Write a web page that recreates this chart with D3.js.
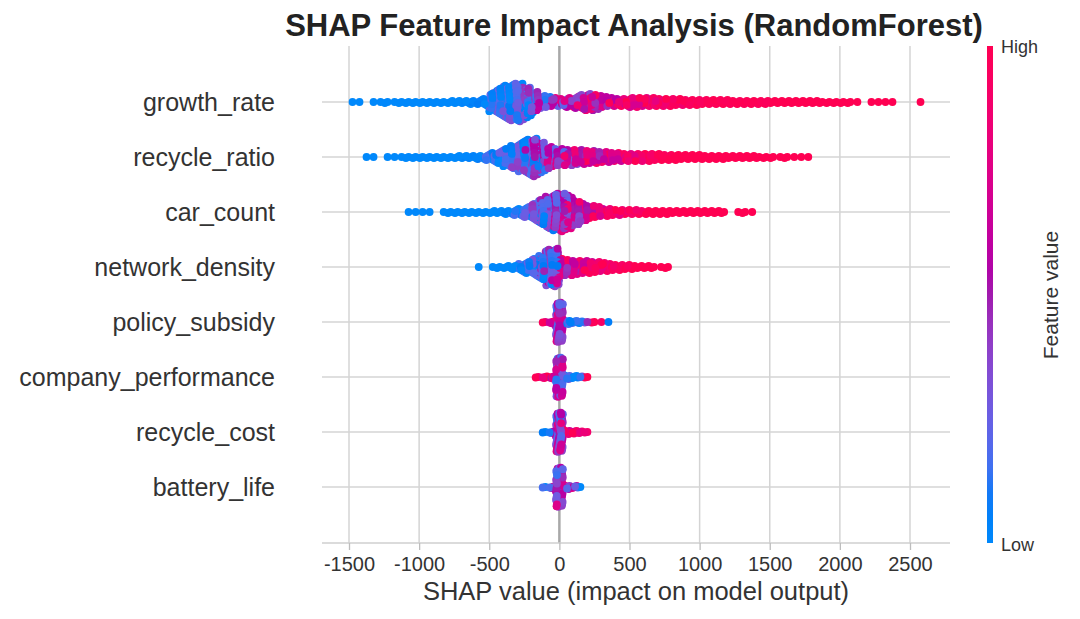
<!DOCTYPE html>
<html lang="en">

<head>
    <meta charset="utf-8">
    <title>SHAP Feature Impact Analysis</title>
    <script src="https://cdn.jsdelivr.net/npm/d3@7/dist/d3.min.js"></script>
</head>
<style>
    body { margin: 0; background: #fff; }
    text { font-family: "Liberation Sans", Arial, sans-serif; }
</style>

<body>
    <script>

     // feature names, top to bottom
     var features = ["growth_rate", "recycle_ratio", "car_count", "network_density",
                     "policy_subsidy", "company_performance", "recycle_cost", "battery_life"];

     var xTicks = [-1500, -1000, -500, 0, 500, 1000, 1500, 2000, 2500];

     // histogram of SHAP values: first bin edge and bin width per feature
     var binStart = [-1500, -1400, -1100, -600, -125, -175, -125, -125];
     var binWidth = [50, 50, 50, 50, 50, 50, 50, 50];

     // dot counts per bin, and mean feature value (0 = low, 1 = high) per bin
     var growthRateCounts = [1,1,0,1,1,2,1,2,2,2, 2,2,2,2,3,3,3,4,5,8,
                             19,27,34,37,38,30,21,13,11,9, 8,10,13,16,17,15,11,9,8,8,
                             10,10,9,9,8,8,7,7,6,6, 5,5,5,5,4,4,4,4,4,4,
                             3,3,3,3,3,3,3,2,2,2, 2,2,1,0,1,1,1,1,0,0, 0,1];
     var growthRateColors = [0,0,0,0,0,0,0,0,0,0, 0,0,0,0,0,0,0.02,0.04,0.06,0.1,
                             0.13,0.15,0.17,0.19,0.22,0.27,0.32,0.38,0.43,0.48,
                             0.53,0.57,0.6,0.63,0.66,0.68,0.71,0.74,0.78,0.8,
                             0.83,0.85,0.87,0.89,0.91,0.92,0.93,0.94,0.95,0.96,
                             0.97,0.97,0.98,0.98,0.98,0.98,0.98,0.98,0.98,0.98,
                             1,1,1,1,1,1,1,1,1,1, 1,1,1,1,1,1,1,1,1,1, 1,1];

     var recycleRatioCounts = [1,1,0,1,1,1,2,2,2,2, 2,2,2,3,3,3,4,6,9,13,
                               18,23,29,35,38,30,22,18,17,16, 15,15,13,12,11,10,9,8,8,8,
                               8,7,7,6,6,5,5,5,4,4, 4,4,3,3,3,3,2,2,2,1, 2,1,1,1];
     var recycleRatioColors = [0,0,0,0,0,0,0,0,0,0, 0,0,0,0,
                               0.02,0.03,0.05,0.08,0.11,0.14,0.17,0.2,0.23,0.27,
                               0.31,0.37,0.43,0.48,0.53,0.58,0.62,0.65,0.69,0.72,
                               0.76,0.8,0.83,0.86,0.88,0.9,0.92,0.94,0.95,0.96,
                               1,1,1,1,1,1,1,1,1,1, 1,1,1,1,1,1,1,1,1,1];

     var carCountCounts = [1,1,1,1,0,1,2,2,2,2,2,2,3,3,4,
                           6,8,11,17,25,32,37,38,33,24, 18,13,11,8,7,6,5,5,4,4,
                           4,4,4,3,3,3,3,3,3,3, 2,0,1,2,1];
     var carCountColors = [0,0,0,0,0,0,0,0,0,0,0,0,0,0,
                           0.04,0.08,0.12,0.17,0.22,0.27,0.32,0.4,0.48,0.54,
                           0.6,0.66,0.72,0.78,0.84,0.88,0.9,0.92,0.94,0.96,
                           1,1,1,1,1,1,1,1,1,1,1,1,1,1,1,1];

     var networkDensityCounts = [1,0,1,2,3,4,8,12,17,24, 36,38,18,16,14,13,12,11,9,7, 6,5,4,3,3,2,1,2];
     var networkDensityColors = [0,0,0,0,0,0,0.08,0.12,0.17,0.24, 0.32,0.42,0.63,0.68,0.74,0.79,0.84,0.88,0.9,0.93,
                                 0.95,0.97,1,1,1,1,1,1];

     var policySubsidyCounts = [2,6,80,8,5,4,2,2,1,1];
     var policySubsidyColors = [0.9,0.8,0.45,0.15,0.1,0.1,0.5,0.95,0.95,0.05];

     var companyPerfCounts = [2,4,6,80,8,5,3,2];
     var companyPerfColors = [0.95,0.9,0.75,0.45,0.15,0.1,0.15,0.95];

     var recycleCostCounts = [2,4,80,8,6,4,2];
     var recycleCostColors = [0.05,0.3,0.45,0.8,0.85,0.9,0.9];

     var batteryLifeCounts = [2,5,80,8,5,2];
     var batteryLifeColors = [0.1,0.4,0.45,0.55,0.5,0.1];

     var featureCounts = [growthRateCounts, recycleRatioCounts, carCountCounts, networkDensityCounts,
                          policySubsidyCounts, companyPerfCounts, recycleCostCounts, batteryLifeCounts];
     var featureColors = [growthRateColors, recycleRatioColors, carCountColors, networkDensityColors,
                          policySubsidyColors, companyPerfColors, recycleCostColors, batteryLifeColors];

     var plotLeft = 322, plotRight = 950, plotTop = 46, plotBottom = 543;

     var x = d3.scaleLinear().domain([-1500, 2500]).range([349, 910]);
     var y = d3.scalePoint().domain(features).range([102, 487]);

     // shap red_blue colormap, done in LCh
     function shapColor(t) {
         t = Math.max(0, Math.min(1, t));
         var l = t < 0.5 ? 54 - 28 * t : 40 + 28 * (t - 0.5);
         var c = 70 + 20 * t;
         var h = 266.9 + (380.3 - 266.9) * t;
         return d3.hcl(h % 360, c, l).formatHex();
     }

     function frac(v) { return v - Math.floor(v); }

     var svg = d3.select("body").append("svg")
                 .attr("width", 1080)
                 .attr("height", 619);

     // grid
     svg.append("g").selectAll("line").data(xTicks).enter().append("line")
        .attr("x1", function(d) { return x(d); })
        .attr("x2", function(d) { return x(d); })
        .attr("y1", plotTop).attr("y2", plotBottom)
        .attr("stroke", function(d) { return d === 0 ? "#a8a8a8" : "#d4d4d4"; })
        .attr("stroke-width", function(d) { return d === 0 ? 2.5 : 1.5; });

     svg.append("g").selectAll("line").data(features).enter().append("line")
        .attr("x1", plotLeft).attr("x2", plotRight)
        .attr("y1", function(d) { return y(d); })
        .attr("y2", function(d) { return y(d); })
        .attr("stroke", "#d4d4d4")
        .attr("stroke-width", 1.5);

     // beeswarm dots, stacked per bin like shap does
     var dots = [];
     features.forEach(function(f, k) {
         var counts = featureCounts[k], cols = featureColors[k];
         var maxLayer = Math.ceil((d3.max(counts) - 1) / 2);
         var dy = 0.37 * y.step() / (maxLayer + 1);
         var list = [];
         counts.forEach(function(n, j) {
             var m = cols[j], s = 4 * m * (1 - m) * 0.7;
             for (var i = 0; i < n; i++) {
                 var layer = Math.ceil(i / 2) * ((i % 2) * 2 - 1);
                 list.push({
                     v: binStart[k] + binWidth[k] * (j + frac(i * 0.618034 + 0.5)),
                     off: layer * dy,
                     t: m + s * (frac(i * 0.7548777 + j * 0.41) - 0.5),
                     f: f
                 });
             }
         });
         list.forEach(function(d, i) { d.key = frac(i * 0.618034); });
         list.sort(function(a, b) { return a.key - b.key; });
         dots = dots.concat(list);
     });

     svg.append("g").selectAll("circle").data(dots).enter().append("circle")
        .attr("cx", function(d) { return x(d.v); })
        .attr("cy", function(d) { return y(d.f) + d.off; })
        .attr("r", 3.9)
        .attr("fill", function(d) { return shapColor(d.t); });

     // x axis
     svg.append("line")
        .attr("x1", plotLeft).attr("x2", plotRight)
        .attr("y1", plotBottom).attr("y2", plotBottom)
        .attr("stroke", "#cfcfcf").attr("stroke-width", 1.5);

     var xAxis = svg.append("g")
                    .attr("transform", "translate(0," + plotBottom + ")")
                    .call(d3.axisBottom(x).tickValues(xTicks).tickSize(7).tickPadding(7)
                            .tickFormat(function(d) { return String(d); }));
     xAxis.select(".domain").remove();
     xAxis.selectAll(".tick line").attr("stroke", "#bdbdbd").attr("stroke-width", 1.3);
     xAxis.selectAll(".tick text")
          .attr("fill", "#333")
          .style("font-size", "20px")
          .style("font-family", "'Liberation Sans', Arial, sans-serif");

     svg.append("text")
        .attr("x", (plotLeft + plotRight) / 2).attr("y", 600)
        .attr("text-anchor", "middle")
        .attr("fill", "#333")
        .style("font-size", "25.5px")
        .text("SHAP value (impact on model output)");

     // feature labels
     svg.append("g").selectAll("text").data(features).enter().append("text")
        .attr("x", 275)
        .attr("y", function(d) { return y(d); })
        .attr("dy", "0.35em")
        .attr("text-anchor", "end")
        .attr("fill", "#333")
        .style("font-size", "25px")
        .text(function(d) { return d; });

     // title
     svg.append("text")
        .attr("x", 634).attr("y", 36)
        .attr("text-anchor", "middle")
        .attr("fill", "#222")
        .style("font-size", "31px")
        .style("font-weight", "bold")
        .text("SHAP Feature Impact Analysis (RandomForest)");

     // colour bar
     var grad = svg.append("defs").append("linearGradient")
                   .attr("id", "cbar")
                   .attr("x1", 0).attr("y1", 1).attr("x2", 0).attr("y2", 0);
     grad.selectAll("stop").data(d3.range(0, 1.0001, 0.05)).enter().append("stop")
         .attr("offset", function(d) { return d; })
         .attr("stop-color", function(d) { return shapColor(d); });

     svg.append("rect")
        .attr("x", 987).attr("y", plotTop)
        .attr("width", 6).attr("height", plotBottom - plotTop)
        .attr("fill", "url(#cbar)");

     svg.append("text").attr("x", 1001).attr("y", 53)
        .attr("fill", "#333").style("font-size", "18px").text("High");
     svg.append("text").attr("x", 1001).attr("y", 551)
        .attr("fill", "#333").style("font-size", "18px").text("Low");
     svg.append("text")
        .attr("transform", "translate(1058,295) rotate(-90)")
        .attr("text-anchor", "middle")
        .attr("fill", "#333")
        .style("font-size", "21px")
        .text("Feature value");

    </script>
</body>

</html>
